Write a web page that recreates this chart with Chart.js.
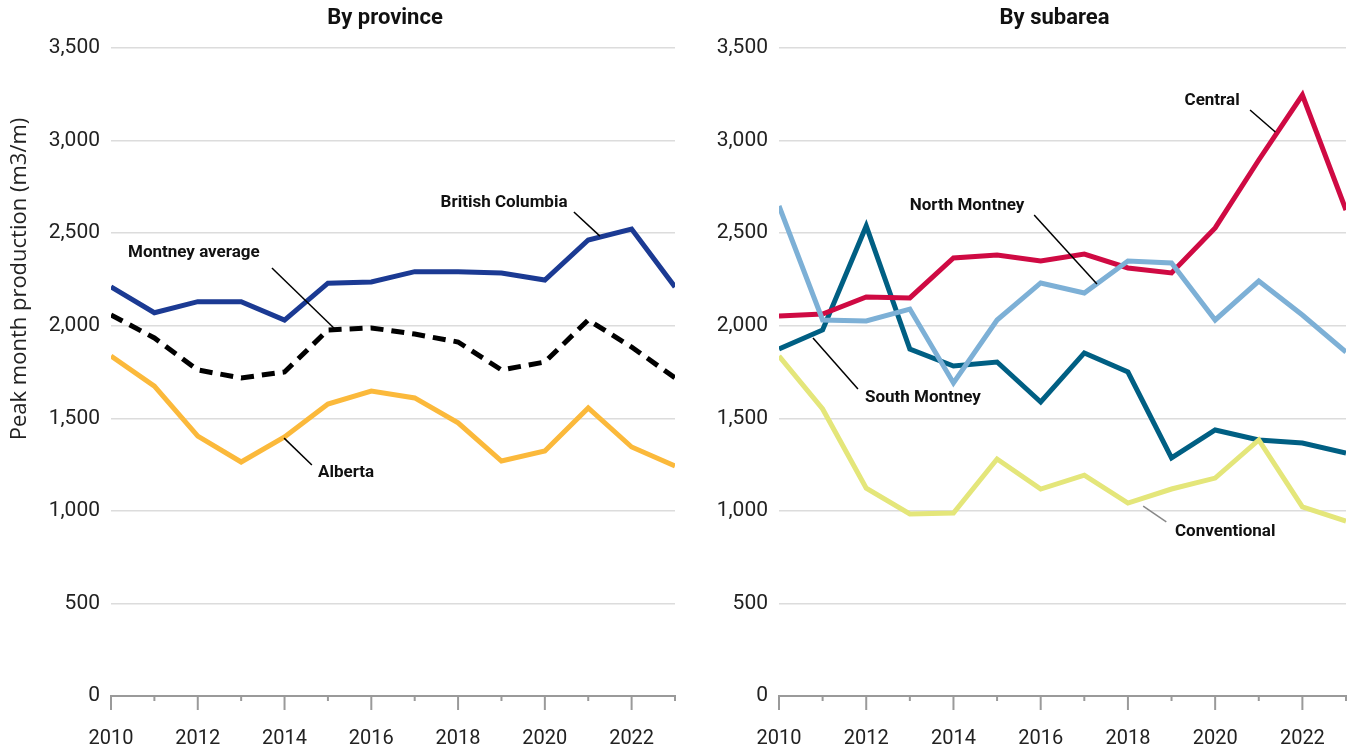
<!DOCTYPE html>
<html>
<head>
<meta charset="utf-8">
<script src="https://cdn.jsdelivr.net/npm/chart.js@4.4.1/dist/chart.umd.min.js"></script>
<style>
  html, body { margin: 0; padding: 0; background: #fff; overflow: hidden; }
  #left { position: absolute; left: 0; top: 0; width: 690px; height: 750px; }
  #right { position: absolute; left: 690px; top: 0; width: 659px; height: 750px; }
</style>
</head>
<body>
<div id="left"><canvas id="provinceChart"></canvas></div>
<div id="right"><canvas id="subareaChart"></canvas></div>
<script>
// Years on the x axis
var years = [2010, 2011, 2012, 2013, 2014, 2015, 2016, 2017, 2018, 2019, 2020, 2021, 2022, 2023];

// By province (m3/m)
var britishColumbia = [2210, 2070, 2130, 2130, 2030, 2230, 2236, 2292, 2292, 2285, 2247, 2463, 2522, 2209];
var montneyAverage  = [2058, 1934, 1761, 1718, 1750, 1977, 1988, 1955, 1912, 1761, 1804, 2031, 1885, 1718];
var alberta         = [1836, 1674, 1404, 1264, 1399, 1577, 1647, 1610, 1475, 1269, 1323, 1556, 1345, 1242];

// By subarea (m3/m)
var central      = [2052, 2063, 2155, 2150, 2366, 2382, 2350, 2387, 2312, 2285, 2528, 2895, 3246, 2625];
var northMontney = [2647, 2031, 2026, 2090, 1691, 2031, 2231, 2177, 2350, 2339, 2031, 2241, 2058, 1858];
var southMontney = [1874, 1977, 2539, 1874, 1782, 1804, 1588, 1853, 1750, 1286, 1437, 1383, 1366, 1312];
var conventional = [1836, 1550, 1123, 983, 988, 1280, 1118, 1193, 1042, 1118, 1177, 1383, 1021, 945];

// Y axis ticks
var yTicks = [0, 500, 1000, 1500, 2000, 2500, 3000, 3500];

// Callout labels (text centre + leader line, in data units)
var provinceNotes = [
  { text: 'British Columbia', tx: 2019.06, ty: 2663, x1: 2020.67, y1: 2614, x2: 2021.27, y2: 2484, color: '#000' },
  { text: 'Montney average', tx: 2011.91, ty: 2393, x1: 2013.71, y1: 2312, x2: 2015.16, y2: 1982, color: '#000' },
  { text: 'Alberta', tx: 2015.42, ty: 1204, x1: 2014.63, y1: 1248, x2: 2013.99, y2: 1393, color: '#000' }
];
var subareaNotes = [
  { text: 'Central', tx: 2019.93, ty: 3214, x1: 2020.80, y1: 3165, x2: 2021.38, y2: 3046, color: '#000' },
  { text: 'North Montney', tx: 2014.31, ty: 2647, x1: 2015.85, y1: 2598, x2: 2017.29, y2: 2225, color: '#000' },
  { text: 'South Montney', tx: 2013.30, ty: 1609, x1: 2011.81, y1: 1658, x2: 2010.78, y2: 1934, color: '#000' },
  { text: 'Conventional', tx: 2020.23, ty: 886, x1: 2018.88, y1: 940, x2: 2018.35, y2: 1026, color: '#888' }
];

function toPoints(values) {
  return values.map(function (v, i) { return { x: years[i], y: v }; });
}

// Titles, x tick marks, rotated y title and callouts
var decor = {
  id: 'decor',
  afterDraw: function (chart, args, opts) {
    var ctx = chart.ctx, area = chart.chartArea;
    var xs = chart.scales.x, ys = chart.scales.y;
    ctx.save();

    ctx.fillStyle = '#111';
    ctx.font = 'bold 22px Roboto';
    ctx.textAlign = 'center';
    ctx.textBaseline = 'middle';
    ctx.fillText(opts.title, (area.left + area.right) / 2 - 8, 18);

    ctx.strokeStyle = '#9a9a9a';
    ctx.lineWidth = 2;
    years.forEach(function (yr) {
      var x = xs.getPixelForValue(yr);
      var len = yr % 2 === 0 ? 14 : 5;
      ctx.beginPath();
      ctx.moveTo(x, area.bottom);
      ctx.lineTo(x, area.bottom + len);
      ctx.stroke();
    });

    if (opts.yTitle) {
      ctx.save();
      ctx.translate(20, 279);
      ctx.rotate(-Math.PI / 2);
      ctx.fillStyle = '#222';
      ctx.font = '22px "Open Sans"';
      ctx.fillText(opts.yTitle, 0, 0);
      ctx.restore();
    }

    ctx.font = 'bold 17px Roboto';
    opts.notes.forEach(function (n) {
      ctx.strokeStyle = n.color;
      ctx.lineWidth = 1.5;
      ctx.beginPath();
      ctx.moveTo(xs.getPixelForValue(n.x1), ys.getPixelForValue(n.y1));
      ctx.lineTo(xs.getPixelForValue(n.x2), ys.getPixelForValue(n.y2));
      ctx.stroke();
      ctx.fillStyle = '#111';
      ctx.fillText(n.text, xs.getPixelForValue(n.tx), ys.getPixelForValue(n.ty));
    });

    ctx.restore();
  }
};

function lineSet(label, values, color, dash) {
  return {
    label: label,
    data: toPoints(values),
    borderColor: color,
    backgroundColor: color,
    borderWidth: 5,
    borderDash: dash || [],
    pointRadius: 0,
    tension: 0,
    fill: false
  };
}

function makeOptions(yWidth, rightPad, title, yTitle, notes) {
  return {
    responsive: true,
    maintainAspectRatio: false,
    animation: false,
    layout: { padding: { top: 48, right: rightPad, left: 0, bottom: 0 } },
    plugins: {
      legend: { display: false },
      tooltip: { enabled: false },
      decor: { title: title, yTitle: yTitle, notes: notes }
    },
    scales: {
      x: {
        type: 'linear',
        min: 2010,
        max: 2023,
        afterFit: function (s) { s.height = 54; },
        grid: { display: true, drawOnChartArea: false, drawTicks: true, tickLength: 29, tickColor: 'rgba(0,0,0,0)' },
        border: { display: true, color: '#9a9a9a', width: 2 },
        ticks: {
          stepSize: 1,
          autoSkip: false,
          maxRotation: 0,
          padding: 2,
          color: '#222',
          font: { family: 'Roboto', size: 20 },
          callback: function (v) { return v % 2 === 0 ? String(v) : ''; }
        }
      },
      y: {
        min: 0,
        max: 3500,
        afterFit: function (s) { s.width = yWidth; },
        afterBuildTicks: function (s) { s.ticks = yTicks.map(function (v) { return { value: v }; }); },
        grid: { color: '#dcdcdc', lineWidth: 1.5, drawTicks: false },
        border: { display: false },
        ticks: {
          padding: 11,
          color: '#222',
          font: { family: 'Roboto', size: 21 },
          callback: function (v) { return v.toLocaleString('en-US'); }
        }
      }
    }
  };
}

var provinceChart = new Chart(document.getElementById('provinceChart'), {
  type: 'line',
  data: {
    datasets: [
      lineSet('British Columbia', britishColumbia, '#1b3a93'),
      lineSet('Alberta', alberta, '#fbb93b'),
      lineSet('Montney average', montneyAverage, '#000000', [13, 8])
    ]
  },
  options: makeOptions(111, 15, 'By province', 'Peak month production (m3/m)', provinceNotes),
  plugins: [decor]
});

var subareaChart = new Chart(document.getElementById('subareaChart'), {
  type: 'line',
  data: {
    datasets: [
      lineSet('Conventional', conventional, '#e4e67a'),
      lineSet('North Montney', northMontney, '#7db0d6'),
      lineSet('Central', central, '#cf0a43'),
      lineSet('South Montney', southMontney, '#005f83')
    ]
  },
  options: makeOptions(89, 3, 'By subarea', null, subareaNotes),
  plugins: [decor]
});
</script>
</body>
</html>
